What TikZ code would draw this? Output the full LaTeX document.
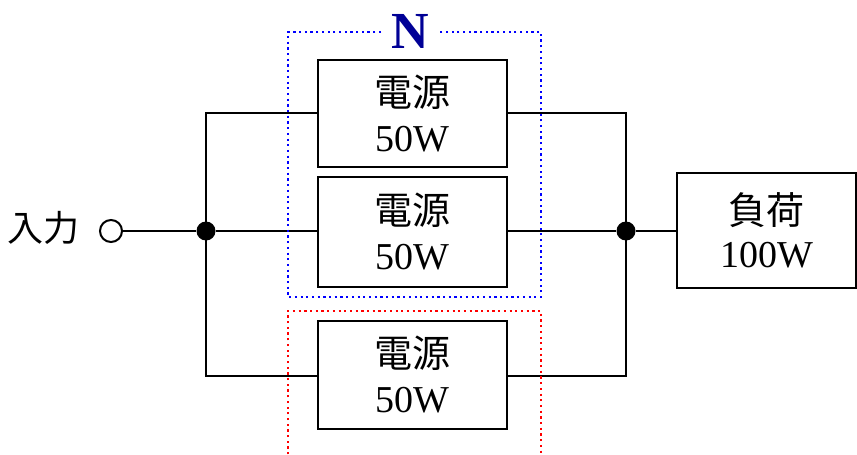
\documentclass[tikz,border=0pt]{standalone}
\usepackage{fontspec}
\setmainfont{Liberation Serif}
\newfontfamily\cjk{Noto Sans CJK JP}
\definecolor{navyN}{RGB}{0,0,150}
\begin{document}
\begin{tikzpicture}[x=1pt,y=-1pt,
  wire/.style={line width=2pt,black},
  unitbox/.style={draw,line width=2pt,minimum width=189pt,minimum height=107pt,inner sep=0pt,align=center,font=\fontsize{38}{45}\selectfont},
  loadbox/.style={draw,line width=2pt,minimum width=179pt,minimum height=115pt,inner sep=0pt,align=center,font=\fontsize{38}{43}\selectfont},
  dotline/.style={line width=2.2pt,dash pattern=on 2.2pt off 3.5pt},
  jdot/.style={circle,fill=black,inner sep=0pt,minimum size=19pt},
  odot/.style={circle,draw,fill=white,line width=2pt,inner sep=0pt,minimum size=22pt}]
\useasboundingbox (0,0) rectangle (857,455);
\clip (0,0) rectangle (857,455);
% boxes
\node[unitbox] (p1) at (412.5,113.5) {{\cjk 電源}\\50W};
\node[unitbox,minimum height=110pt] (p2) at (412.5,232) {{\cjk 電源}\\50W};
\node[unitbox,minimum height=108pt] (p3) at (412.5,375) {{\cjk 電源}\\50W};
\node[loadbox] (ld) at (766.5,230.5) {{\cjk 負荷}\\100W};
% input
\node[font=\cjk\fontsize{36}{36}\selectfont] (in) at (44,228) {入力};
\node[odot] (o) at (111,231) {};
\node[jdot] (j1) at (206,231) {};
\node[jdot] (j2) at (626,231) {};
\coordinate (lt) at (206,113);
\coordinate (lb) at (206,376);
\coordinate (rt) at (626,113);
\coordinate (rb) at (626,376);
% wires
\draw[wire] (o) -- (j1) -- (j1 -| p2.west);
\draw[wire] (p1.west |- lt) -- (lt) -- (lb) -- (p3.west |- lb);
\draw[wire] (p1.east |- rt) -- (rt) -- (rb) -- (p3.east |- rb);
\draw[wire] (p2.east |- j2) -- (j2) -- (ld.west |- j2);
% N group
\node[text=navyN,font=\bfseries\fontsize{52}{52}\selectfont] (N) at (410,31) {N};
\draw[dotline,blue] (381,32) -- (288,32) -- (288,297) -- (541,297) -- (541,32) -- (440,32);
\draw[dotline,red] (288,460) -- (288,311) -- (541,311) -- (541,460);
\end{tikzpicture}
\end{document}
